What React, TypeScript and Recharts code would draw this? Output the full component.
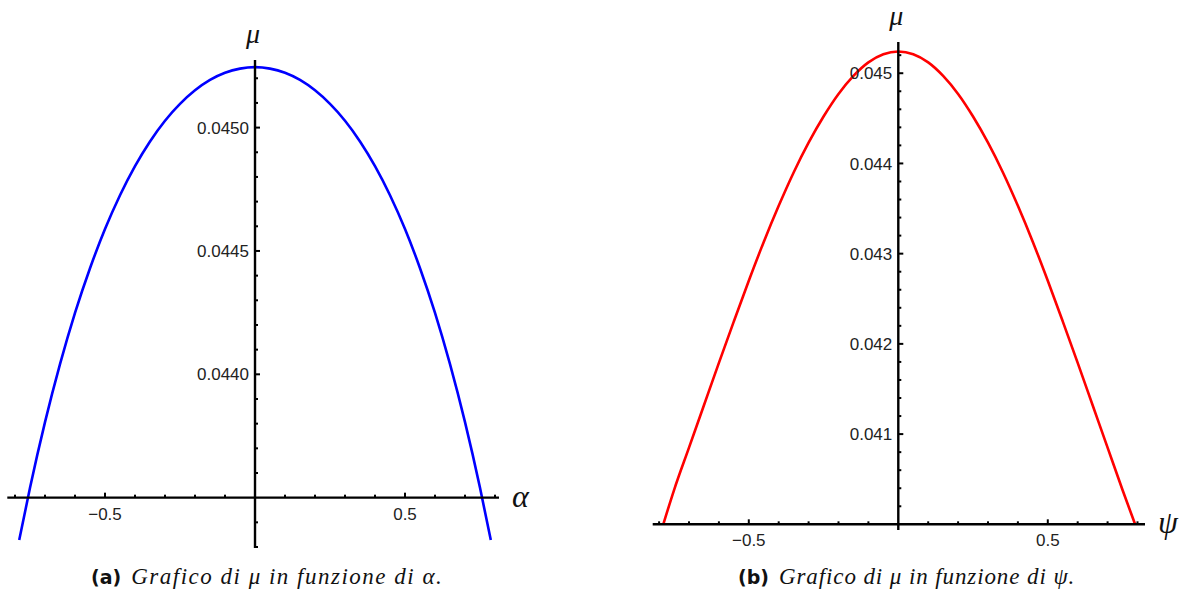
import React from "react";
import { ComposedChart, Line, XAxis, YAxis, ReferenceLine, ReferenceDot } from "recharts";

// μ as a function of α (left panel)
const alphaGrid = [
  -0.786, -0.75, -0.7, -0.65, -0.6, -0.55, -0.5, -0.45, -0.4, -0.35, -0.3, -0.25, -0.2, -0.15, -0.1, -0.05,
  0, 0.05, 0.1, 0.15, 0.2, 0.25, 0.3, 0.35, 0.4, 0.45, 0.5, 0.55, 0.6, 0.65, 0.7, 0.75, 0.786,
];
const muByAlpha = [
  0.043328, 0.04354, 0.043806, 0.044041, 0.044249, 0.04443, 0.044589, 0.044726, 0.044844, 0.044944, 0.045028,
  0.045096, 0.045151, 0.045193, 0.045222, 0.045239, 0.045245, 0.045239, 0.045222, 0.045193, 0.045151, 0.045096,
  0.045028, 0.044944, 0.044844, 0.044726, 0.044589, 0.04443, 0.044249, 0.044041, 0.043806, 0.04354, 0.043328,
];

// μ as a function of ψ (right panel)
const psiGrid = [
  -0.786, -0.75, -0.7, -0.65, -0.6, -0.55, -0.5, -0.45, -0.4, -0.35, -0.3, -0.25, -0.2, -0.15, -0.1, -0.05,
  0, 0.05, 0.1, 0.15, 0.2, 0.25, 0.3, 0.35, 0.4, 0.45, 0.5, 0.55, 0.6, 0.65, 0.7, 0.75, 0.792,
];
const muByPsi = [
  0.04, 0.04038, 0.04085, 0.04132, 0.04179, 0.04225, 0.0427, 0.04313, 0.04353, 0.0439, 0.04423, 0.04452,
  0.04477, 0.04497, 0.04512, 0.04521, 0.04524, 0.04521, 0.04512, 0.04497, 0.04477, 0.04452, 0.04423, 0.0439,
  0.04353, 0.04313, 0.0427, 0.04225, 0.04179, 0.04132, 0.04085, 0.04038, 0.04,
];

// horizontal-axis ticks (shared by both panels)
const xMinorTicks = [-0.8, -0.7, -0.6, -0.4, -0.3, -0.2, -0.1, 0.1, 0.2, 0.3, 0.4, 0.6, 0.7, 0.8];
const xMajorTicks = [-0.5, 0.5];
const xMajorLabels = ["\u22120.5", "0.5"];

// vertical-axis ticks, left panel
const alphaYMinor = [
  0.0433, 0.0434, 0.0436, 0.0437, 0.0438, 0.0439, 0.0441, 0.0442, 0.0443, 0.0444, 0.0446, 0.0447, 0.0448,
  0.0449, 0.0451, 0.0452,
];
const alphaYMajor = [0.044, 0.0445, 0.045];
const alphaYLabels = ["0.0440", "0.0445", "0.0450"];

// vertical-axis ticks, right panel
const psiYMinor = [
  0.0402, 0.0404, 0.0406, 0.0408, 0.0412, 0.0414, 0.0416, 0.0418, 0.0422, 0.0424, 0.0426, 0.0428, 0.0432,
  0.0434, 0.0436, 0.0438, 0.0442, 0.0444, 0.0446, 0.0448, 0.0452,
];
const psiYMajor = [0.041, 0.042, 0.043, 0.044, 0.045];
const psiYLabels = ["0.041", "0.042", "0.043", "0.044", "0.045"];

const tickFont = "'Liberation Sans', Arial, sans-serif";
const mathFont = "'Liberation Serif', 'Times New Roman', serif";

type PanelProps = {
  rows: { x: number; mu: number }[];
  color: string;
  xDomain: [number, number];
  yDomain: [number, number];
  xAxisAt: number;
  yMinor: number[];
  yMajor: number[];
  yLabels: string[];
  varName: string;
  width: number;
  margin: { top: number; right: number; bottom: number; left: number };
};

function Panel(p: PanelProps) {
  const vTick = (len: number, label?: string) => (s: any) => (
    <g>
      <line x1={s.cx} y1={s.cy} x2={s.cx + len} y2={s.cy} stroke="#000" strokeWidth={2} />
      {label ? (
        <text x={s.cx - 6} y={s.cy} dy="0.36em" textAnchor="end" fontFamily={tickFont} fontSize={17} fill="#222">
          {label}
        </text>
      ) : null}
    </g>
  );
  const hTick = (len: number, label?: string) => (s: any) => (
    <g>
      <line x1={s.cx} y1={s.cy} x2={s.cx} y2={s.cy - len} stroke="#000" strokeWidth={2} />
      {label ? (
        <text x={s.cx} y={s.cy + 22} textAnchor="middle" fontFamily={tickFont} fontSize={17} fill="#222">
          {label}
        </text>
      ) : null}
    </g>
  );
  return (
    <ComposedChart width={p.width} height={595} data={p.rows} margin={p.margin}>
      <XAxis dataKey="x" type="number" domain={p.xDomain} allowDataOverflow hide />
      <YAxis type="number" domain={p.yDomain} allowDataOverflow hide />
      <Line
        dataKey="mu"
        type="monotone"
        stroke={p.color}
        strokeWidth={2.6}
        dot={false}
        activeDot={false}
        isAnimationActive={false}
      />
      <ReferenceLine x={0} stroke="#000" strokeWidth={2.4} />
      <ReferenceLine y={p.xAxisAt} stroke="#000" strokeWidth={2.4} />
      {xMinorTicks.map((t) => (
        <ReferenceDot key={"xm" + t} x={t} y={p.xAxisAt} r={1} shape={hTick(3)} />
      ))}
      {xMajorTicks.map((t, i) => (
        <ReferenceDot key={"xM" + t} x={t} y={p.xAxisAt} r={1} shape={hTick(5, xMajorLabels[i])} />
      ))}
      {p.yMinor.map((t) => (
        <ReferenceDot key={"ym" + t} x={0} y={t} r={1} shape={vTick(3)} />
      ))}
      {p.yMajor.map((t, i) => (
        <ReferenceDot key={"yM" + t} x={0} y={t} r={1} shape={vTick(5, p.yLabels[i])} />
      ))}
      <ReferenceDot
        x={0}
        y={p.yDomain[1]}
        r={1}
        shape={(s: any) => (
          <text x={s.cx - 2} y={s.cy - 17} textAnchor="middle" fontFamily={mathFont} fontStyle="italic" fontSize={28} fill="#111">
            μ
          </text>
        )}
      />
      <ReferenceDot
        x={p.xDomain[1]}
        y={p.xAxisAt}
        r={1}
        shape={(s: any) => (
          <text x={s.cx + 13} y={s.cy + 9} textAnchor="start" fontFamily={mathFont} fontStyle="italic" fontSize={32} fill="#111">
            {p.varName}
          </text>
        )}
      />
    </ComposedChart>
  );
}

const captionStyle: React.CSSProperties = {
  position: "absolute",
  top: 564,
  whiteSpace: "nowrap",
  lineHeight: "26px",
  color: "#111",
};

function Caption({ left, tag, varName, spacing }: { left: number; tag: string; varName: string; spacing: number }) {
  return (
    <div style={{ ...captionStyle, left }}>
      <span style={{ fontFamily: "'DejaVu Sans', sans-serif", fontWeight: "bold", fontSize: 19 }}>{tag}</span>
      <span style={{ fontFamily: mathFont, fontStyle: "italic", fontSize: 23, marginLeft: 10, letterSpacing: spacing }}>
        Grafico di μ in funzione di {varName}.
      </span>
    </div>
  );
}

export default function App() {
  const alphaRows = alphaGrid.map((x, i) => ({ x, mu: muByAlpha[i] }));
  const psiRows = psiGrid.map((x, i) => ({ x, mu: muByPsi[i] }));
  return (
    <div style={{ position: "absolute", left: 0, top: 0, width: 1182, height: 595, background: "#fff" }}>
      <div style={{ position: "absolute", left: 0, top: 0 }}>
        <Panel
          rows={alphaRows}
          color="#0000ff"
          xDomain={[-0.8257, 0.8133]}
          yDomain={[0.043296, 0.045274]}
          xAxisAt={0.0435}
          yMinor={alphaYMinor}
          yMajor={alphaYMajor}
          yLabels={alphaYLabels}
          varName="α"
          width={540}
          margin={{ top: 60, right: 41, bottom: 47, left: 7.3 }}
        />
      </div>
      <div style={{ position: "absolute", left: 600, top: 0 }}>
        <Panel
          rows={psiRows}
          color="#ff0000"
          xDomain={[-0.8214, 0.8251]}
          yDomain={[0.039937, 0.045346]}
          xAxisAt={0.04}
          yMinor={psiYMinor}
          yMajor={psiYMajor}
          yLabels={psiYLabels}
          varName="ψ"
          width={582}
          margin={{ top: 42, right: 37, bottom: 65, left: 52.7 }}
        />
      </div>
      <Caption left={91} tag="(a)" varName="α" spacing={1.5} />
      <Caption left={738} tag="(b)" varName="ψ" spacing={0.9} />
    </div>
  );
}
